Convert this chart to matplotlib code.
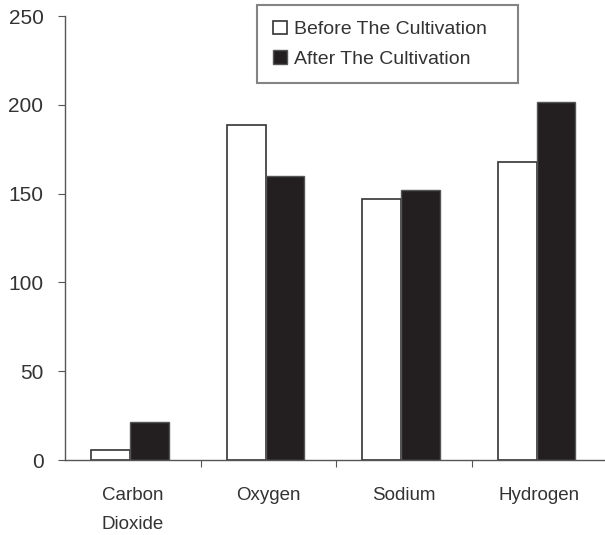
import numpy as np
import matplotlib.pyplot as plt

# du lieu doc tu hinh
categories = ["Carbon\nDioxide", "Oxygen", "Sodium", "Hydrogen"]
before = [5.5, 188.4, 146.8, 167.8]
after = [21.5, 160, 152, 201.4]
series_names = ["Before The Cultivation", "After The Cultivation"]

plt.rcParams['font.family'] = ['Liberation Sans', 'DejaVu Sans']

fig = plt.figure(figsize=(6.05, 5.35), dpi=100)
ax = fig.add_axes([65/605, 1-460/535, 542/605, 444/535])

x = np.arange(len(categories))
w = 0.285
ax.bar(x - w/2 - 0.02, before, w, color='white', edgecolor='#333333', linewidth=1.2, label=series_names[0])
ax.bar(x + w/2 - 0.02, after, w, color='#231f20', edgecolor='#555555', linewidth=1.0, label=series_names[1])

ax.set_xlim(-0.5, len(categories) - 0.5)
ax.set_ylim(0, 250)
ax.set_yticks(range(0, 251, 50))

# vach chia giua cac nhom
ax.set_xticks(np.arange(0.5, len(categories) - 0.5, 1.0))
ax.set_xticklabels([])
ax.set_xticks(x, minor=True)
ax.set_xticklabels(categories, minor=True, fontsize=13.5, color='#333333', linespacing=1.95)
ax.tick_params(axis='x', which='minor', length=0, pad=19.5)
ax.tick_params(axis='x', which='major', direction='out', length=5, color='#555555')
ax.tick_params(axis='y', direction='out', length=5, color='#555555', labelsize=15, labelcolor='#333333', pad=10.5)

for s in ['top', 'right']:
    ax.spines[s].set_visible(False)
for s in ['left', 'bottom']:
    ax.spines[s].set_color('#555555')
    ax.spines[s].set_linewidth(1.0)

leg = ax.legend(loc='upper left', bbox_to_anchor=(257/605, 1-83/535, 261/605, 78/535),
                bbox_transform=fig.transFigure, mode='expand',
                fancybox=False, edgecolor='#666666', fontsize=14, handlelength=0.72, handleheight=0.72,
                handletextpad=0.4, borderpad=0.8, labelspacing=0.6, borderaxespad=0)
leg.get_frame().set_linewidth(1.5)
for t in leg.get_texts():
    t.set_color('#333333')

fig.savefig('out.png', dpi=100)
